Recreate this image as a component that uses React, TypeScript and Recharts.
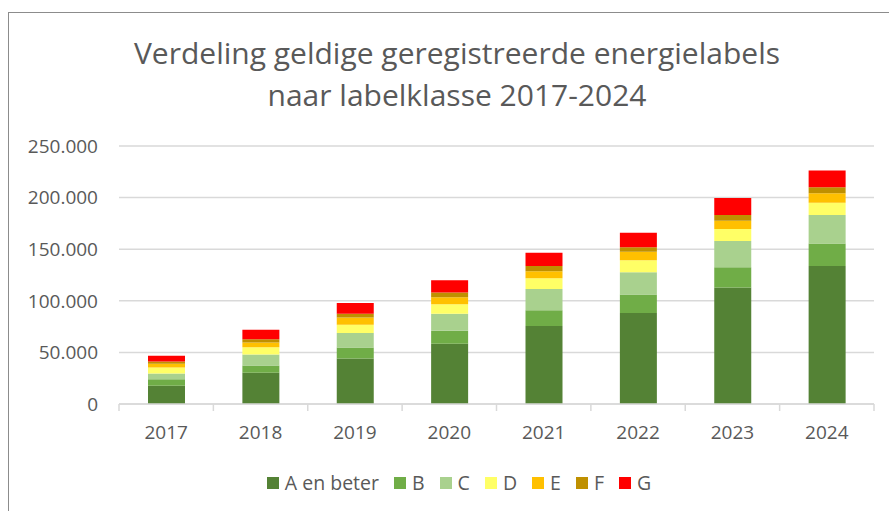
import React from 'react'
import { BarChart, Bar, XAxis, YAxis, CartesianGrid } from 'recharts'

// years on the category axis
const years = ['2017', '2018', '2019', '2020', '2021', '2022', '2023', '2024']

// registered labels per class
const labelA = [17800, 30400, 44100, 58400, 75500, 88100, 112800, 133600]
const labelB = [6100, 6900, 10700, 12600, 15300, 17900, 19800, 22000]
const labelC = [5600, 10700, 13900, 16500, 20700, 21700, 25300, 27600]
const labelD = [5800, 7100, 8100, 9100, 10400, 11700, 11700, 11900]
const labelE = [3600, 4500, 7100, 6800, 6800, 8100, 8000, 9200]
const labelF = [2200, 3200, 3600, 4600, 4900, 4500, 5600, 5800]
const labelG = [5600, 9200, 10400, 11900, 12900, 14000, 16500, 16200]

const yTicks = [0, 50000, 100000, 150000, 200000, 250000]

const series = [
    { key: 'A', name: 'A en beter', values: labelA, color: '#548235' },
    { key: 'B', name: 'B', values: labelB, color: '#70ad47' },
    { key: 'C', name: 'C', values: labelC, color: '#a9d18e' },
    { key: 'D', name: 'D', values: labelD, color: '#ffff66' },
    { key: 'E', name: 'E', values: labelE, color: '#ffc000' },
    { key: 'F', name: 'F', values: labelF, color: '#bf9000' },
    { key: 'G', name: 'G', values: labelG, color: '#ff0000' },
]

const data = years.map((year, i) => {
    const row: Record<string, string | number> = { year }
    series.forEach(s => { row[s.key] = s.values[i] })
    return row
})

const textColor = '#595959'
const gridColor = '#d9d9d9'
const font = '"Open Sans", sans-serif'

// "250000" -> "250.000"
const formatThousands = (v: number) => v.toLocaleString('nl-NL')

// year label plus the small tick marks between categories
const YearTick = (props: any) => {
    const { x, y, payload, index, visibleTicksCount } = props
    const half = payload?.offset ?? 0
    return (
        <g>
            <line x1={x - half} x2={x - half} y1={y} y2={y + 7} stroke={gridColor} strokeWidth={1.5} />
            {index === visibleTicksCount - 1 && (
                <line x1={x + half} x2={x + half} y1={y} y2={y + 7} stroke={gridColor} strokeWidth={1.5} />
            )}
            <text x={x} y={y + 35} textAnchor="middle" fill={textColor} fontSize={19} fontFamily={font}>
                {payload.value}
            </text>
        </g>
    )
}

export default function App() {
    return (
        <div
            style={{
                position: 'absolute',
                left: 8,
                top: 12,
                width: 881,
                height: 499,
                overflow: 'hidden',
                borderLeft: '1px solid #8c8c8c',
                borderTop: '1px solid #8c8c8c',
                boxSizing: 'border-box',
                background: '#fff',
                fontFamily: font,
            }}
        >
            <div style={{ position: 'relative', width: 898, height: 498 }}>
                {/* title */}
                <div
                    style={{
                        position: 'absolute',
                        top: 19,
                        left: 0,
                        width: 896,
                        textAlign: 'center',
                        fontSize: 30,
                        lineHeight: '42px',
                        color: textColor,
                    }}
                >
                    Verdeling geldige geregistreerde energielabels
                    <br />
                    naar labelklasse 2017-2024
                </div>

                <BarChart
                    width={898}
                    height={498}
                    data={data}
                    margin={{ top: 133, right: 33, left: 0, bottom: 77 }}
                    barSize={37}
                >
                    <CartesianGrid stroke={gridColor} strokeWidth={1.5} vertical={false} />
                    <XAxis
                        dataKey="year"
                        height={30}
                        axisLine={{ stroke: gridColor, strokeWidth: 1.5 }}
                        tickLine={false}
                        tickSize={0}
                        tickMargin={0}
                        tick={<YearTick />}
                        interval={0}
                    />
                    <YAxis
                        width={110}
                        domain={[0, 250000]}
                        ticks={yTicks}
                        axisLine={false}
                        tickLine={false}
                        tickMargin={15}
                        tickFormatter={formatThousands}
                        tick={{ fill: textColor, fontSize: 19, fontFamily: font }}
                    />
                    {series.map(s => (
                        <Bar key={s.key} dataKey={s.key} name={s.name} stackId="a" fill={s.color} isAnimationActive={false} />
                    ))}
                </BarChart>

                {/* legend */}
                <div
                    style={{
                        position: 'absolute',
                        top: 457,
                        left: 0,
                        width: 900,
                        display: 'flex',
                        justifyContent: 'center',
                        alignItems: 'center',
                        gap: 15,
                        fontSize: 19.5,
                        color: textColor,
                        lineHeight: '26px',
                    }}
                >
                    {series.map(s => (
                        <div key={s.key} style={{ display: 'flex', alignItems: 'center' }}>
                            <span style={{ width: 12, height: 12, background: s.color, marginRight: 6, display: 'inline-block' }} />
                            <span>{s.name}</span>
                        </div>
                    ))}
                </div>
            </div>
        </div>
    )
}
